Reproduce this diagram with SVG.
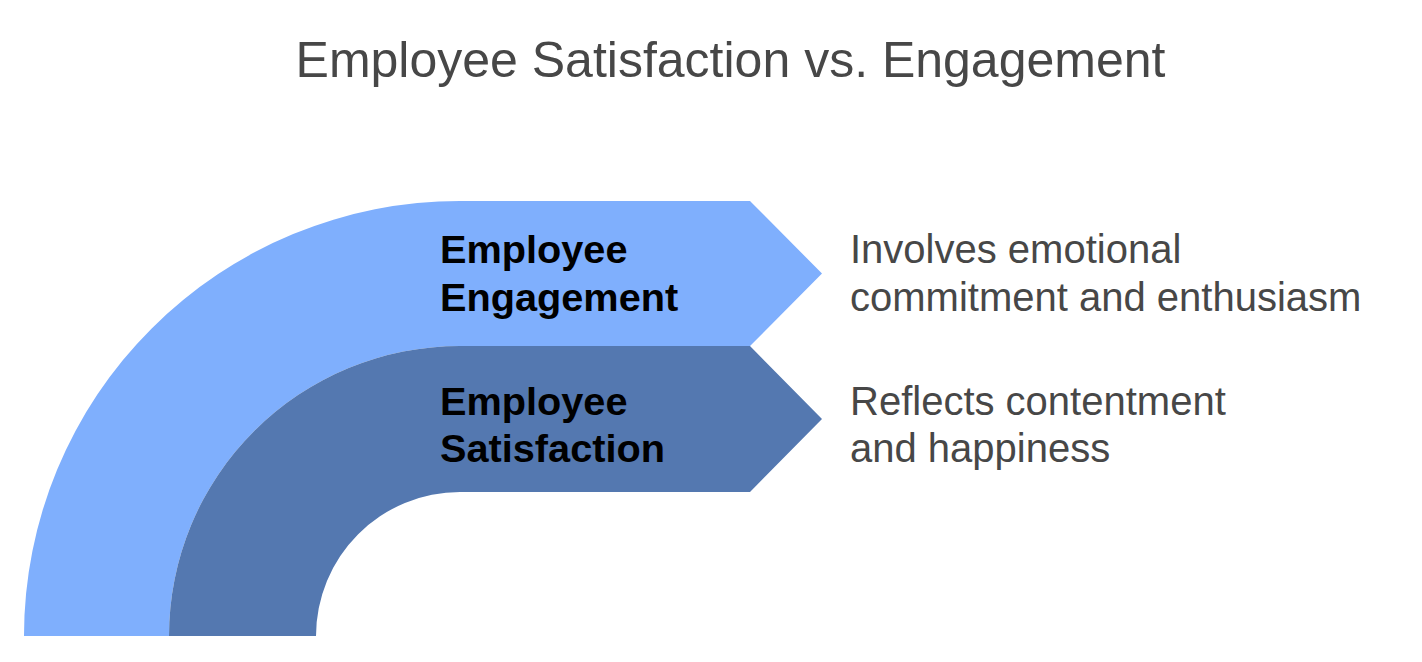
<svg xmlns="http://www.w3.org/2000/svg" width="1422" height="662" viewBox="0 0 1422 662">
<style>
.title{font-family:"Liberation Sans",Arial,sans-serif;font-size:50px;fill:#474747}
.lbl{font-family:"Liberation Sans",Arial,sans-serif;font-size:39.7px;font-weight:bold;fill:#000}
.desc{font-family:"Liberation Sans",Arial,sans-serif;font-size:40px;fill:#474747}
.light{fill:#7FAFFD}
.dark{fill:#5478B0}
</style>
<rect width="1422" height="662" fill="#fff"/>
<text class="title" x="730.5" y="77" text-anchor="middle">Employee Satisfaction vs. Engagement</text>
<g id="connectors"></g>
<g id="engagement">
<path class="light" d="M24,636 A436,435 0 0 1 460,201 L750,201 L822,273.5 L750,346 L460,346 A291,290 0 0 0 169,636 Z"/>
<text class="lbl" x="440" y="263">Employee</text>
<text class="lbl" x="440" y="310.5">Engagement</text>
</g>
<g id="satisfaction">
<path class="dark" d="M169,636 A291,290 0 0 1 460,346 L750,346 L822,419 L750,492 L460,492 A144,144 0 0 0 316,636 Z"/>
<text class="lbl" x="440" y="415">Employee</text>
<text class="lbl" x="440" y="462">Satisfaction</text>
</g>
<g id="engagement-desc">
<text class="desc" x="850" y="263">Involves emotional</text>
<text class="desc" x="850" y="310.5">commitment and enthusiasm</text>
</g>
<g id="satisfaction-desc">
<text class="desc" x="850" y="415">Reflects contentment</text>
<text class="desc" x="850" y="462">and happiness</text>
</g>
</svg>
